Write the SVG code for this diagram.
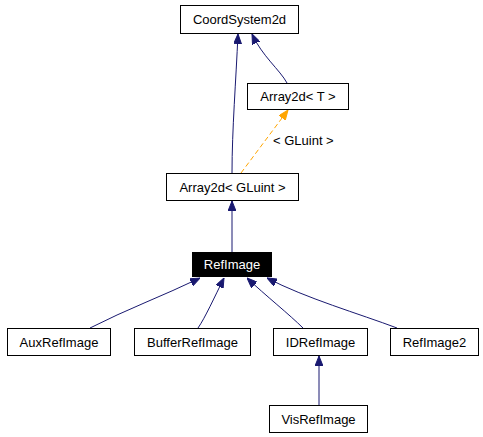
<svg xmlns="http://www.w3.org/2000/svg" width="483" height="437" viewBox="0 0 483 437">
<style>
.box{fill:#fff;stroke:#000;stroke-width:1}
.sel{fill:#000;stroke:#000;stroke-width:1}
text{font-family:"Liberation Sans",Arial,sans-serif;font-size:13px;text-anchor:middle;fill:#000}
.w{fill:#fff}
.e{fill:none;stroke:#191970;stroke-width:1}
.t{fill:none;stroke:#ffa500;stroke-width:1;stroke-dasharray:5,3}
.lbl{text-anchor:start}
</style>
<defs>
<marker id="a" viewBox="0 0 10 8" refX="10" refY="4" markerWidth="10" markerHeight="8" markerUnits="userSpaceOnUse" orient="auto"><path d="M0,0 L10,4 L0,8 z" fill="#191970" stroke="#191970"/></marker>
<marker id="o" viewBox="0 0 10 8" refX="10" refY="4" markerWidth="10" markerHeight="8" markerUnits="userSpaceOnUse" orient="auto"><path d="M0,0 L10,4 L0,8 z" fill="#ffa500" stroke="#ffa500"/></marker>
</defs>
<rect width="483" height="437" fill="#fff"/>
<g id="edges">
<path class="e" d="M232,173 C232,130 236,80 238,34" marker-end="url(#a)"/>
<path class="e" d="M287,83 C280,70 262,56 252,34" marker-end="url(#a)"/>
<path class="t" d="M241,173 L288,110" marker-end="url(#o)"/>
<text class="lbl" x="273" y="145">&lt; GLuint &gt;</text>
<path class="e" d="M232,252 L232,201" marker-end="url(#a)"/>
<path class="e" d="M90,328 C125,310 165,295 200,278" marker-end="url(#a)"/>
<path class="e" d="M198,328 C205,318 214,298 224,278" marker-end="url(#a)"/>
<path class="e" d="M303,328 C290,315 265,295 247,278" marker-end="url(#a)"/>
<path class="e" d="M397,328 C360,314 305,298 267,278" marker-end="url(#a)"/>
<path class="e" d="M319,405 L319,356" marker-end="url(#a)"/>
</g>
<g id="CoordSystem2d"><rect class="box" x="180.5" y="5.5" width="118" height="28"/><text x="239.5" y="23.5">CoordSystem2d</text></g>
<g id="Array2dT"><rect class="box" x="247.5" y="83.5" width="101" height="26"/><text x="298" y="101">Array2d&lt; T &gt;</text></g>
<g id="Array2dGLuint"><rect class="box" x="166.5" y="173.5" width="132" height="27"/><text x="232.5" y="191.5">Array2d&lt; GLuint &gt;</text></g>
<g id="RefImage"><rect class="sel" x="192.5" y="252.5" width="79" height="24"/><text class="w" x="232" y="269">RefImage</text></g>
<g id="AuxRefImage"><rect class="box" x="7.5" y="328.5" width="103" height="27"/><text x="59" y="346.5">AuxRefImage</text></g>
<g id="BufferRefImage"><rect class="box" x="134.5" y="328.5" width="116" height="27"/><text x="192.5" y="346.5">BufferRefImage</text></g>
<g id="IDRefImage"><rect class="box" x="273.5" y="328.5" width="94" height="27"/><text x="320.5" y="346.5">IDRefImage</text></g>
<g id="RefImage2"><rect class="box" x="390.5" y="328.5" width="88" height="27"/><text x="434.5" y="346.5">RefImage2</text></g>
<g id="VisRefImage"><rect class="box" x="269.5" y="405.5" width="98" height="27"/><text x="318.5" y="423.5">VisRefImage</text></g>
</svg>
